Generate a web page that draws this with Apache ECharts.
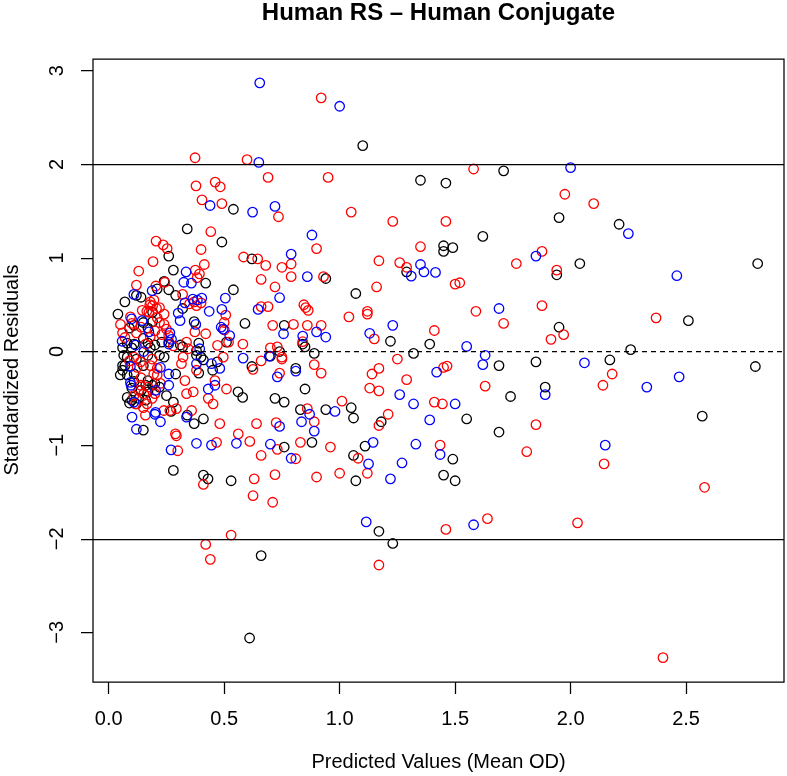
<!DOCTYPE html>
<html>
<head>
<meta charset="utf-8">
<script src="https://cdn.jsdelivr.net/npm/echarts@6/dist/echarts.min.js"></script>
<style>
html,body{margin:0;padding:0;background:#fff;}
#chart{width:787px;height:776px;}
</style>
</head>
<body>
<div id="chart"></div>
<script>
// ---- data (predicted value, standardized residual) ----
var titleText = "Human RS \u2013 Human Conjugate";
var xTitle = "Predicted Values (Mean OD)";
var yTitle = "Standardized Residuals";
var xTicks = [0, 0.5, 1, 1.5, 2, 2.5];
var yTicks = [-3, -2, -1, 0, 1, 2, 3];
var refLines = [2, 0, -2];

var blackPts = [
[1.10,2.20],[1.71,1.93],[1.35,1.83],[1.46,1.80],[1.62,1.23],[1.45,1.13],[1.45,1.07],[1.49,1.11],[0.62,0.99],[0.94,0.78],
[1.29,0.85],[1.07,0.62],[0.76,0.28],[0.84,0.08],[0.74,0.00],[1.22,0.11],[1.39,0.08],[0.89,-0.02],[1.32,-0.02],[0.70,-0.05],
[0.85,0.05],[1.69,-0.15],[0.81,-0.18],[0.85,-0.40],[1.74,-0.48],[1.55,-0.72],[1.69,-0.86],[0.72,-0.50],[0.76,-0.54],[0.83,-0.62],
[0.94,-0.62],[1.05,-0.60],[1.06,-0.71],[1.18,-0.75],[0.76,-1.02],[0.88,-0.97],[1.11,-1.01],[1.06,-1.11],[1.07,-1.38],[1.49,-1.15],
[1.45,-1.32],[1.50,-1.38],[1.17,-1.92],[1.23,-2.05],[0.66,-2.18],[1.95,1.43],[2.21,1.36],[2.04,0.94],[1.94,0.82],[2.81,0.94],
[2.51,0.33],[1.95,0.26],[2.26,0.02],[1.85,-0.11],[2.17,-0.09],[1.89,-0.38],[2.80,-0.16],[2.57,-0.69],[0.28,-1.27],[0.41,-1.32],
[0.43,-1.36],[0.53,-1.38],[0.61,-3.06],
[0.34,1.31],[0.49,1.17],[0.54,1.52],[0.26,1.02],[0.28,0.87],[0.42,0.73],[0.24,0.75],[0.54,0.66],[0.26,0.66],[0.21,0.67],
[0.12,0.60],[0.14,0.58],[0.07,0.53],[0.29,0.60],[0.32,0.46],[0.19,0.42],[0.04,0.40],[0.59,0.30],[0.37,0.32],[0.15,0.31],
[0.11,0.28],[0.09,0.25],[0.19,0.32],[0.17,0.25],[0.51,0.10],[0.31,0.07],[0.32,0.05],[0.39,0.09],[0.38,0.01],[0.23,0.10],
[0.11,0.08],[0.20,0.07],[0.26,0.10],[0.06,0.04],[0.08,0.09],[0.10,0.04],[0.15,0.14],[0.17,0.09],[0.18,0.04],
[0.065,-0.04],[0.08,-0.06],[0.12,-0.08],[0.17,-0.04],[0.22,-0.04],[0.24,-0.06],[0.07,-0.15],[0.15,-0.15],[0.05,-0.25],[0.08,-0.25],
[0.11,-0.24],[0.11,-0.32],[0.17,-0.31],[0.16,-0.36],[0.22,-0.38],[0.08,-0.49],[0.10,-0.52],[0.14,-0.415],[0.17,-0.43],[0.25,-0.47],
[0.28,-0.54],[0.27,-0.64],[0.15,-0.84],[0.10,-0.39],[0.13,-0.50],[0.16,-0.52],[0.09,-0.55],[0.12,-0.56],[0.19,-0.36],[0.20,-0.34],
[0.06,-0.15],[0.06,-0.20],
[0.38,-0.04],[0.40,-0.06],[0.41,-0.09],[0.39,-0.23],[0.47,-0.11],[0.45,-0.20],[0.62,-0.16],[0.56,-0.43],[0.58,-0.49],[0.34,-0.68],
[0.37,-0.77],[0.41,-0.72],[0.29,-0.24]
];

var redPts = [
[0.92,2.71],[0.69,1.86],[0.95,1.86],[1.58,1.95],[0.735,1.44],[1.05,1.49],[1.23,1.39],[1.46,1.39],[0.90,1.10],[1.35,1.12],
[0.645,0.99],[0.68,0.92],[0.75,0.90],[0.79,0.935],[0.79,0.80],[0.66,0.77],[0.93,0.80],[1.17,0.97],[1.26,0.95],[1.29,0.90],
[1.50,0.72],[1.52,0.735],[1.765,0.94],[0.72,0.69],[1.16,0.69],[0.845,0.50],[0.853,0.47],[0.864,0.44],[0.66,0.48],[0.69,0.48],
[1.04,0.37],[1.12,0.43],[1.12,0.40],[1.59,0.43],[1.71,0.30],[0.71,0.28],[0.80,0.29],[0.86,0.28],[0.92,0.28],[0.84,0.105],
[0.70,0.04],[0.73,0.05],[1.15,0.135],[1.41,0.225],[0.75,-0.06],[0.75,-0.08],[0.66,-0.10],[0.74,-0.23],[0.89,-0.14],[0.92,-0.23],
[1.25,-0.08],[1.14,-0.24],[1.17,-0.18],[1.29,-0.30],[1.13,-0.39],[1.17,-0.42],[1.45,-0.17],[1.465,-0.155],[1.41,-0.54],[1.445,-0.56],
[1.63,-0.37],[0.86,-0.61],[0.89,-0.75],[1.01,-0.53],[1.21,-0.67],[1.17,-0.79],[0.64,-0.77],[0.725,-0.76],[0.73,-1.045],[0.66,-1.11],
[0.81,-1.145],[0.83,-0.97],[0.96,-1.02],[1.08,-1.14],[1.12,-1.30],[1.435,-1.0],[0.72,-1.315],[0.90,-1.34],[1.0,-1.30],[0.71,-1.61],
[1.46,-1.90],[1.64,-1.785],[1.17,-2.28],[1.975,1.68],[2.10,1.58],[1.876,1.07],[1.94,0.87],[1.876,0.49],[2.37,0.36],[1.97,0.18],
[1.915,0.13],[2.18,-0.24],[2.14,-0.36],[1.85,-0.78],[1.81,-1.07],[2.145,-1.20],[2.58,-1.45],[2.03,-1.83],[2.40,-3.27],[0.41,-1.42],
[0.63,-1.36],[0.625,-1.54],[0.53,-1.96],[0.42,-2.06],[0.44,-2.22],
[0.374,2.07],[0.599,2.05],[0.378,1.77],[0.461,1.81],[0.483,1.76],[0.404,1.62],[0.49,1.58],[0.442,1.28],[0.40,1.09],[0.584,1.01],
[0.414,0.93],[0.375,0.87],[0.393,0.83],[0.383,0.79],[0.205,1.18],[0.236,1.14],[0.253,1.10],[0.192,0.96],[0.13,0.86],[0.243,0.74],
[0.12,0.71],[0.204,0.70],[0.32,0.61],[0.18,0.53],[0.19,0.49],[0.145,0.44],[0.174,0.42],[0.094,0.37],[0.051,0.29],[0.21,0.36],
[0.22,0.31],[0.24,0.29],[0.25,0.24],[0.20,0.22],[0.23,0.18],[0.26,0.17],[0.28,0.06],[0.16,0.08],[0.12,0.20],[0.07,0.15],
[0.22,0.47],[0.24,0.40],[0.35,0.51],[0.37,0.53],[0.40,0.52],[0.38,0.49],[0.507,0.39],[0.50,0.31],[0.501,0.23],[0.42,0.19],
[0.373,0.21],[0.519,0.10],[0.581,0.08],[0.471,0.066],[0.337,0.10],[0.344,0.03],[0.178,0.50],[0.165,0.43],[0.207,0.46],[0.196,0.55],
[0.10,0.30],[0.14,0.26],[0.18,0.16],[0.06,0.20],
[0.109,-0.06],[0.188,-0.08],[0.138,-0.11],[0.123,-0.17],[0.181,-0.15],[0.21,-0.18],[0.195,-0.24],[0.21,-0.25],[0.138,-0.36],[0.224,-0.34],
[0.109,-0.47],[0.13,-0.415],[0.152,-0.45],[0.188,-0.50],[0.166,-0.56],[0.159,-0.68],[0.239,-0.63],[0.289,-0.88],[0.299,-1.06],[0.116,-0.56],
[0.322,-0.06],[0.315,-0.13],[0.38,-0.20],[0.496,-0.06],[0.625,-0.19],[0.33,-0.31],[0.46,-0.31],[0.51,-0.40],[0.337,-0.45],[0.366,-0.43],
[0.431,-0.50],[0.452,-0.56],[0.293,-0.61],[0.359,-0.63],[0.481,-0.77],[0.293,-0.90],[0.561,-0.88],[0.611,-0.96],[0.467,-0.97],[0.265,-0.63],
[0.09,-0.10],[0.14,-0.28],[0.17,-0.38],[0.20,-0.45],[0.15,-0.60]
];

var bluePts = [
[0.654,2.87],[1.00,2.62],[0.65,2.02],[0.72,1.55],[0.623,1.49],[0.88,1.245],[0.79,1.04],[0.86,0.80],[1.31,0.805],[1.35,0.93],
[1.365,0.85],[1.415,0.845],[0.74,0.575],[0.647,0.45],[1.69,0.46],[0.757,0.19],[0.84,0.165],[0.90,0.21],[0.94,0.155],[1.13,0.195],
[1.23,0.28],[1.55,0.055],[0.695,-0.05],[1.63,-0.04],[1.62,-0.14],[0.73,-0.27],[0.81,-0.21],[1.42,-0.22],[1.26,-0.46],[1.32,-0.56],
[1.50,-0.56],[1.39,-0.73],[0.87,-0.67],[0.835,-0.75],[0.89,-0.85],[0.98,-0.64],[0.74,-0.80],[0.70,-0.99],[0.79,-1.14],[1.145,-0.97],
[1.125,-1.20],[1.22,-1.36],[1.27,-1.19],[1.33,-0.99],[1.435,-1.10],[1.115,-1.82],[1.58,-1.85],[2.00,1.965],[2.25,1.26],[1.85,1.02],
[2.46,0.81],[2.06,-0.12],[1.89,-0.46],[2.33,-0.38],[2.47,-0.27],[2.15,-1.0],
[0.439,1.56],[0.335,0.85],[0.325,0.74],[0.358,0.73],[0.188,0.65],[0.109,0.61],[0.364,0.56],[0.384,0.55],[0.403,0.57],[0.505,0.57],
[0.435,0.43],[0.49,0.45],[0.301,0.41],[0.309,0.33],[0.377,0.29],[0.487,0.26],[0.496,0.24],[0.524,0.17],[0.394,0.03],[0.33,0.52],
[0.099,0.35],[0.145,0.33],[0.174,0.21],[0.265,0.20],[0.272,0.13],[0.058,0.11],[0.116,0.07],[0.26,0.08],[0.152,0.00],[0.094,-0.16],
[0.224,-0.17],[0.26,-0.24],[0.094,-0.33],[0.097,-0.36],[0.203,-0.415],[0.26,-0.36],[0.109,-0.54],[0.203,-0.65],[0.224,-0.75],[0.101,-0.70],
[0.12,-0.83],[0.27,-1.05],[0.38,-0.13],[0.445,-0.13],[0.481,-0.18],[0.582,-0.07],[0.46,-0.36],[0.431,-0.40],[0.337,-0.70],[0.38,-0.98],
[0.445,-1.0],[0.553,-0.98],[0.20,-0.67]
];

// ---- chart ----
var FONT = '"Liberation Sans", Arial, Helvetica, sans-serif';
var chart = echarts.init(document.getElementById('chart'), null, {renderer: 'canvas'});

function pointSeries(name, pts, color) {
  return {
    name: name,
    type: 'scatter',
    data: pts,
    symbol: 'circle',
    symbolSize: 9.5,
    silent: true,
    itemStyle: {color: 'rgba(0,0,0,0)', borderColor: color, borderWidth: 1.3, opacity: 1},
    emphasis: {disabled: true}
  };
}

var lineSeries = {
  type: 'scatter',
  data: [],
  silent: true,
  markLine: {
    silent: true,
    symbol: 'none',
    label: {show: false},
    animation: false,
    data: refLines.map(function (v) {
      return {yAxis: v, lineStyle: {color: '#000', width: 1.25, type: v === 0 ? [5, 4] : 'solid'}};
    })
  }
};

chart.setOption({
  animation: false,
  backgroundColor: '#ffffff',
  grid: {left: 93, right: 3, top: 59, bottom: 94, show: true, borderColor: '#000', borderWidth: 1.25, backgroundColor: 'rgba(0,0,0,0)'},
  xAxis: {
    type: 'value', min: -0.068, max: 2.924,
    axisLine: {show: false, onZero: false},
    splitLine: {show: false},
    axisTick: {show: true, inside: false, customValues: xTicks, length: 12, lineStyle: {color: '#000', width: 1.25}},
    axisLabel: {customValues: xTicks, formatter: function (v) { return v.toFixed(1); },
      color: '#000', fontSize: 20, fontFamily: FONT, margin: 27}
  },
  yAxis: {
    type: 'value', min: -3.53, max: 3.125,
    axisLine: {show: false, onZero: false},
    splitLine: {show: false},
    axisTick: {show: true, inside: false, customValues: yTicks, length: 12, lineStyle: {color: '#000', width: 1.25}},
    axisLabel: {customValues: yTicks, rotate: 90,
      formatter: function (v) { return String(v).replace('-', '\u2212'); },
      color: '#000', fontSize: 20, fontFamily: FONT, margin: 26}
  },
  graphic: [
    {type: 'text', x: 438.5, y: 13, silent: true,
     style: {text: titleText, fill: '#000', font: 'bold 24px ' + FONT, textAlign: 'center', textVerticalAlign: 'middle'}},
    {type: 'text', x: 438.5, y: 762, silent: true,
     style: {text: xTitle, fill: '#000', font: '20px ' + FONT, textAlign: 'center', textVerticalAlign: 'middle'}},
    {type: 'text', x: 12, y: 370, rotation: Math.PI / 2, silent: true,
     style: {text: yTitle, fill: '#000', font: '20px ' + FONT, textAlign: 'center', textVerticalAlign: 'middle'}}
  ],
  series: [
    lineSeries,
    pointSeries('black', blackPts, '#000000'),
    pointSeries('red', redPts, '#FF0000'),
    pointSeries('blue', bluePts, '#0000FF')
  ]
});
</script>
</body>
</html>
